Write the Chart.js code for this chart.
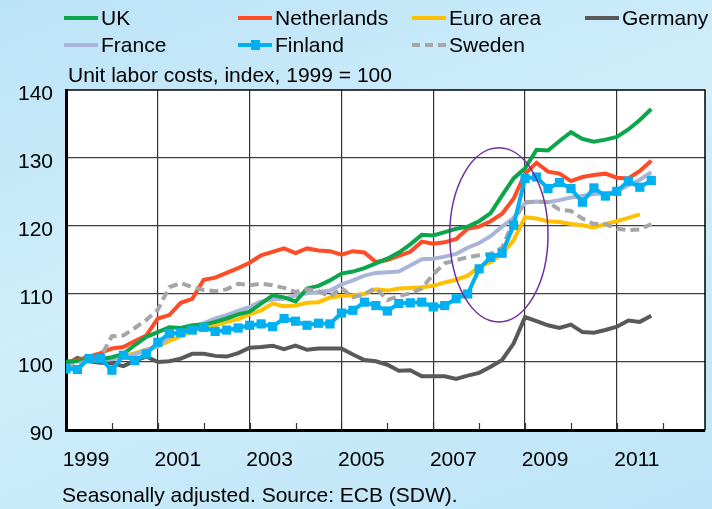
<!DOCTYPE html>
<html lang="en">
<head>
<meta charset="UTF-8">
<title>Unit labor costs, index, 1999 = 100</title>
<script src="https://cdn.jsdelivr.net/npm/chart.js"></script>
<style>
  body { margin: 0; background: #c2e6f8; font-family: "Liberation Sans", Arial, sans-serif; }
  #wrap {
    position: relative; width: 712px; height: 509px; overflow: hidden;
    background: linear-gradient(160deg, #bbe3f7 0%, #d0eefb 45%, #bde4f7 100%);
  }
  canvas { position: absolute; left: 0; top: 0; }
  .lg { position: absolute; font-size: 21px; line-height: 22px; color: #000; white-space: nowrap; }
  .lg i { display: inline-block; width: 34px; height: 4px; margin-right: 3px; vertical-align: middle; position: relative; top: -1px; }
  .lg i b { position: absolute; left: 13px; top: -3px; width: 9px; height: 10px; background: #00B0F0; }
  .txt { position: absolute; font-size: 21px; line-height: 22px; color: #000; white-space: nowrap; }
</style>
</head>
<body>
<div id="wrap">
  <canvas id="chart" width="712" height="509"></canvas>
  <div id="legend"></div>
  <div class="txt" style="left:68px; top:64px;">Unit labor costs, index, 1999 = 100</div>
  <div class="txt" style="left:62px; top:484px;">Seasonally adjusted. Source: ECB (SDW).</div>
</div>
<script>
  // quarterly data, 1999Q1 .. 2011Q4
  const firstYear = 1999, lastYear = 2011;
  const quarters = [];
  for (let y = firstYear; y <= lastYear; y++) for (let q = 0; q < 4; q++) quarters.push(y + q / 4);

  const labeledYears = [1999, 2001, 2003, 2005, 2007, 2009, 2011];
  const yTicks = [90, 100, 110, 120, 130, 140];

  const uk = [100.0, 100.2, 100.3, 100.4, 100.7, 101.2, 102.5, 103.7, 104.4, 105.1, 105.0, 105.4, 105.5,
    105.9, 106.4, 107.0, 107.4, 108.6, 109.8, 109.5, 108.9, 110.8, 111.2, 112.0, 113.0, 113.3, 113.8,
    114.5, 115.2, 116.1, 117.3, 118.7, 118.6, 119.1, 119.6, 119.9, 120.7, 121.9, 124.5, 127.0, 128.5,
    131.2, 131.1, 132.5, 133.8, 132.8, 132.4, 132.7, 133.1, 134.2, 135.6, 137.2];
  const netherlands = [100.0, 100.3, 100.8, 101.3, 102.0, 102.2, 103.1, 103.9, 106.4, 106.9, 108.7, 109.3,
    112.1, 112.4, 113.1, 113.8, 114.6, 115.7, 116.2, 116.7, 116.0, 116.7, 116.4, 116.3, 115.8, 116.3,
    116.1, 114.7, 115.0, 115.6, 116.2, 117.7, 117.4, 117.6, 118.1, 119.6, 119.9, 120.7, 121.8, 124.0,
    127.7, 129.3, 128.0, 127.7, 126.6, 127.2, 127.5, 127.7, 127.1, 127.0, 128.1, 129.6];
  const euroArea = [100.0, 100.2, 100.3, 100.4, 100.6, 100.9, 101.3, 101.8, 102.3, 103.1, 103.8, 104.6,
    105.1, 105.4, 105.9, 106.3, 107.0, 107.6, 108.6, 108.2, 108.3, 108.7, 108.8, 109.5, 109.7, 109.8,
    110.0, 110.7, 110.5, 110.8, 110.9, 111.0, 111.2, 111.7, 112.1, 112.7, 114.0, 114.7, 115.9, 117.9,
    121.3, 121.1, 120.7, 120.6, 120.3, 120.1, 119.8, 120.3, 120.7, 121.2, 121.7, null];
  const germany = [99.6, 100.6, 100.1, 99.9, 99.8, 99.4, 100.2, 100.8, 100.0, 100.1, 100.5, 101.2, 101.2,
    100.9, 100.8, 101.3, 102.1, 102.2, 102.4, 101.9, 102.4, 101.8, 102.0, 102.0, 102.0, 101.1, 100.3,
    100.1, 99.6, 98.7, 98.8, 97.9, 97.9, 97.9, 97.5, 98.0, 98.4, 99.3, 100.3, 102.7, 106.6, 106.0, 105.4,
    105.0, 105.5, 104.4, 104.3, 104.7, 105.2, 106.1, 105.9, 106.8];
  const france = [99.8, 100.1, 100.2, 100.3, 100.4, 100.7, 101.1, 101.8, 102.3, 103.7, 104.6, 105.2, 105.7,
    106.4, 106.9, 107.5, 108.1, 108.9, 109.2, 109.3, 109.8, 110.1, 110.3, 110.5, 111.4, 112.0, 112.7,
    113.1, 113.2, 113.3, 114.2, 115.1, 115.2, 115.5, 115.9, 116.8, 117.5, 118.5, 119.9, 121.2, 123.4,
    123.6, 123.5, 123.8, 124.2, 124.4, 124.7, 124.8, 125.1, 126.0, 126.8, 127.9];
  const finland = [99.0, 98.9, 100.5, 100.5, 98.8, 101.0, 100.2, 101.2, 102.9, 104.2, 104.3, 104.7, 105.1,
    104.5, 104.7, 105.0, 105.4, 105.6, 105.2, 106.4, 106.0, 105.4, 105.7, 105.6, 107.2, 107.6, 108.8,
    108.3, 107.5, 108.6, 108.7, 108.8, 108.1, 108.3, 109.3, 110.0, 113.7, 115.4, 116.0, 120.1, 127.0,
    127.2, 125.5, 126.4, 125.5, 123.5, 125.6, 124.4, 125.1, 126.6, 125.7, 126.7];
  const sweden = [99.0, 99.7, 100.2, 100.7, 103.8, 103.9, 105.0, 106.2, 107.7, 111.0, 111.6, 111.0, 110.6,
    110.4, 110.7, 111.5, 111.3, 111.5, 111.3, 110.9, 110.3, 110.7, 110.4, 109.6, 110.9, 109.5, 110.0,
    110.9, 109.1, 109.7, 110.1, 110.8, 112.9, 114.5, 115.0, 115.4, 115.7, 115.9, 116.8, 120.8, 123.5,
    123.6, 123.5, 122.4, 122.2, 121.1, 120.3, 120.3, 119.6, 119.4, 119.5, 120.3];

  // legend order as in the picture
  const legendNames = ['UK', 'Netherlands', 'Euro area', 'Germany', 'France', 'Finland', 'Sweden'];

  const FONT = '"Liberation Sans", Arial, sans-serif';
  const styles = {
    'UK':          { color: '#0BA64B' },
    'Netherlands': { color: '#FF4B26' },
    'Euro area':   { color: '#FFC000' },
    'Germany':     { color: '#595959' },
    'France':      { color: '#A8B4D8' },
    'Finland':     { color: '#00B0F0', marker: true },
    'Sweden':      { color: '#A6A6A6', dash: [9, 5] }
  };
  const values = {
    'UK': uk, 'Netherlands': netherlands, 'Euro area': euroArea, 'Germany': germany,
    'France': france, 'Finland': finland, 'Sweden': sweden
  };

  // first dataset is painted on top
  const drawOrder = ['Finland', 'Sweden', 'UK', 'Netherlands', 'France', 'Euro area', 'Germany'];
  const datasets = drawOrder.map(name => {
    const st = styles[name];
    return {
      label: name,
      data: values[name].map((v, i) => ({ x: quarters[i], y: v })),
      borderColor: st.color,
      backgroundColor: st.color,
      borderWidth: 4,
      borderDash: st.dash || [],
      pointStyle: 'rect',
      pointRadius: st.marker ? 6.5 : 0,
      pointBorderWidth: 0,
      pointBackgroundColor: st.color,
      spanGaps: false
    };
  });

  // html legend: 4 columns, 2 rows
  const legendCols = [64, 238, 412, 585];
  const legendRows = [7, 34];
  const legendBox = document.getElementById('legend');
  legendNames.forEach((name, k) => {
    const st = styles[name];
    const el = document.createElement('div');
    el.className = 'lg';
    el.style.left = legendCols[k % 4] + 'px';
    el.style.top = legendRows[Math.floor(k / 4)] + 'px';
    const sw = document.createElement('i');
    if (st.dash) {
      sw.style.background = `repeating-linear-gradient(90deg, ${st.color} 0 8px, transparent 8px 13px)`;
    } else {
      sw.style.background = st.color;
    }
    if (st.marker) sw.appendChild(document.createElement('b'));
    el.appendChild(sw);
    el.appendChild(document.createTextNode(name));
    legendBox.appendChild(el);
  });

  // the ellipse drawn around 2008-2009
  const ellipse = { x: 2008.43, y: 118.7, rx: 1.07, ry: 12.8 };

  const decorPlugin = {
    id: 'decor',
    beforeDraw(chart) {
      const a = chart.chartArea, ctx = chart.ctx;
      ctx.save();
      ctx.fillStyle = '#ffffff';
      ctx.fillRect(a.left, a.top, a.right - a.left, a.bottom - a.top);
      ctx.restore();
    },
    afterDraw(chart) {
      const a = chart.chartArea, ctx = chart.ctx;
      const xs = chart.scales.x, ys = chart.scales.y;
      ctx.save();
      // top and right frame
      ctx.strokeStyle = '#000';
      ctx.lineWidth = 1.5;
      ctx.beginPath();
      ctx.moveTo(a.left, a.top); ctx.lineTo(a.right, a.top); ctx.lineTo(a.right, a.bottom);
      ctx.stroke();
      // small yearly tick marks along the bottom
      ctx.strokeStyle = '#333';
      ctx.lineWidth = 1.2;
      for (let y = firstYear + 1; y <= 2012; y++) {
        const px = Math.round(xs.getPixelForValue(y)) + 0.5;
        ctx.beginPath(); ctx.moveTo(px, a.bottom); ctx.lineTo(px, a.bottom - 7); ctx.stroke();
      }
      // ellipse
      const cx = xs.getPixelForValue(ellipse.x), cy = ys.getPixelForValue(ellipse.y);
      const rx = xs.getPixelForValue(ellipse.x + ellipse.rx) - cx;
      const ry = cy - ys.getPixelForValue(ellipse.y + ellipse.ry);
      ctx.strokeStyle = '#7030A0';
      ctx.lineWidth = 1.5;
      ctx.beginPath(); ctx.ellipse(cx, cy, rx, ry, 0, 0, Math.PI * 2); ctx.stroke();
      ctx.restore();
    }
  };

  new Chart(document.getElementById('chart'), {
    type: 'line',
    data: { datasets },
    options: {
      responsive: false,
      animation: false,
      layout: { padding: { top: 90, right: 7, left: 0, bottom: 0 } },
      plugins: { legend: { display: false }, tooltip: { enabled: false } },
      elements: { line: { tension: 0 } },
      scales: {
        x: {
          type: 'linear', min: 1999, max: 2012.92,
          afterBuildTicks: s => { s.ticks = labeledYears.map(v => ({ value: v })); },
          afterFit: s => { s.height = 79; s.paddingLeft = 0; s.paddingRight = 0; },
          grid: {
            drawTicks: false, lineWidth: 1.2,
            color: c => (c.tick && c.tick.value > 1999) ? '#333333' : 'rgba(0,0,0,0)'
          },
          border: { display: true, color: '#000', width: 3 },
          ticks: {
            padding: 18, labelOffset: 20, maxRotation: 0, autoSkip: false,
            color: '#000', font: { size: 21, family: FONT },
            callback: v => String(v)
          }
        },
        y: {
          min: 90, max: 140,
          afterBuildTicks: s => { s.ticks = yTicks.map(v => ({ value: v })); },
          afterFit: s => { s.width = 66; s.paddingTop = 0; s.paddingBottom = 0; },
          grid: {
            drawTicks: false, lineWidth: 1.2,
            color: c => (c.tick && (c.tick.value === 90 || c.tick.value === 140)) ? 'rgba(0,0,0,0)' : '#404040'
          },
          border: { display: true, color: '#000', width: 3 },
          ticks: { padding: 13, labelOffset: 4, color: '#000', font: { size: 21, family: FONT } }
        }
      }
    },
    plugins: [decorPlugin]
  });
</script>
</body>
</html>
